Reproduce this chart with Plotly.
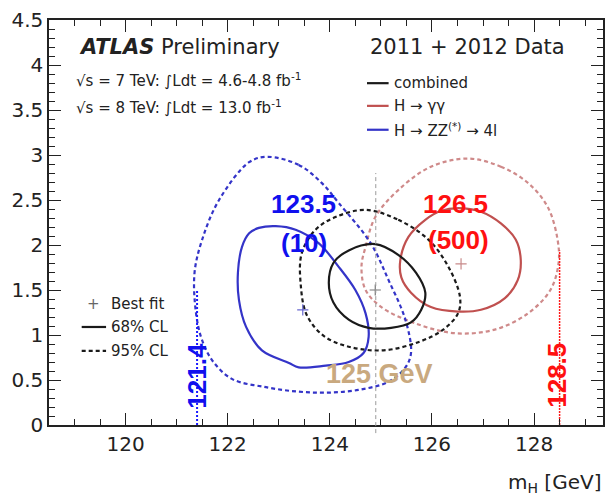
import plotly.graph_objects as go

# ---- data ----
comb68_x = [124.89, 125.34, 125.69, 125.87, 125.79, 125.59, 125.20, 124.76, 124.37, 124.07, 123.98, 124.07, 124.37]
comb68_y = [2.01, 1.89, 1.69, 1.47, 1.28, 1.14, 1.08, 1.08, 1.17, 1.36, 1.58, 1.80, 1.94]
comb95_x = [124.70, 125.34, 125.93, 126.32, 126.55, 126.51, 126.22, 125.73, 125.05, 124.37, 123.88, 123.55, 123.43, 123.45, 123.72, 124.11]
comb95_y = [2.39, 2.28, 2.06, 1.76, 1.42, 1.24, 1.06, 0.92, 0.83, 0.87, 0.99, 1.22, 1.56, 1.91, 2.17, 2.31]
comb_best = (124.89, 1.50)

gg68_x = [126.51, 126.96, 127.35, 127.64, 127.74, 127.68, 127.43, 126.96, 126.51, 125.98, 125.59, 125.40, 125.38, 125.54, 125.87, 126.18]
gg68_y = [2.41, 2.37, 2.24, 2.06, 1.83, 1.61, 1.41, 1.28, 1.26, 1.31, 1.47, 1.64, 1.83, 2.09, 2.28, 2.38]
gg95_x = [126.71, 127.35, 127.88, 128.27, 128.46, 128.48, 128.32, 127.88, 127.23, 126.45, 125.67, 125.01, 124.70, 124.62, 124.70, 124.89, 125.34, 125.98]
gg95_y = [2.96, 2.87, 2.69, 2.42, 2.06, 1.80, 1.50, 1.24, 1.06, 1.02, 1.13, 1.31, 1.50, 1.76, 1.98, 2.31, 2.61, 2.87]
gg_best = (126.57, 1.79)

zz68_x = [122.94, 123.33, 123.78, 124.17, 124.50, 124.70, 124.76, 124.66, 124.37, 123.92, 123.39, 123.20, 122.67, 122.36, 122.22, 122.20, 122.28, 122.42, 122.61]
zz68_y = [2.21, 2.17, 2.02, 1.76, 1.50, 1.24, 0.98, 0.80, 0.70, 0.66, 0.64, 0.69, 0.83, 1.09, 1.39, 1.69, 1.98, 2.13, 2.19]
zz95_x = [122.77, 123.39, 123.84, 124.17, 124.80, 125.15, 125.48, 125.59, 125.48, 125.15, 124.56, 123.98, 123.39, 122.75, 122.09, 121.72, 121.50, 121.38, 121.35, 121.50, 121.83, 122.42]
zz95_y = [2.98, 2.89, 2.69, 2.47, 2.02, 1.61, 1.17, 0.80, 0.64, 0.48, 0.39, 0.36, 0.37, 0.42, 0.51, 0.70, 0.94, 1.24, 1.69, 2.06, 2.50, 2.92]
zz_best = (123.47, 1.28)

mass_lo, mass_hi, mass_ref = 121.4, 128.5, 124.9
lo_line_top, hi_line_top, ref_line_top = 1.5, 1.94, 2.8
zz_label, zz_sub = "123.5", "(10)"
gg_label, gg_sub = "126.5", "(500)"

x_range = [118.5, 129.35]
y_range = [0, 4.5]

BLACK = "#1a1a1a"
RED = "#c0504f"
RED95 = "#cf8a8a"
BLUE = "#3434c8"
FONT = "DejaVu Sans"
DASH = "4px,3px"

def closed(xs, ys):
    return list(xs) + [xs[0]], list(ys) + [ys[0]]

fig = go.Figure()

def contour(xs, ys, color, dash):
    cx, cy = closed(xs, ys)
    fig.add_trace(go.Scatter(x=cx, y=cy, mode="lines", line=dict(color=color, width=2.2, dash=dash, shape="spline", smoothing=1.0),
                             hoverinfo="skip", showlegend=False))

contour(gg95_x, gg95_y, RED95, DASH)
contour(zz95_x, zz95_y, BLUE, DASH)
contour(comb95_x, comb95_y, BLACK, DASH)
contour(gg68_x, gg68_y, RED, "solid")
contour(zz68_x, zz68_y, BLUE, "solid")
contour(comb68_x, comb68_y, BLACK, "solid")

for (bx, by), c in [(comb_best, "#777777"), (gg_best, "#c88a8a"), (zz_best, "#6a6ad0")]:
    fig.add_trace(go.Scatter(x=[bx], y=[by], mode="markers", marker=dict(symbol="cross-thin", size=8, line=dict(color=c, width=1.2)),
                             hoverinfo="skip", showlegend=False))

# vertical lines
fig.add_trace(go.Scatter(x=[mass_lo, mass_lo], y=[0, lo_line_top], mode="lines", line=dict(color="#1a1aff", width=2, dash="2px,2px"),
                         hoverinfo="skip", showlegend=False))
fig.add_trace(go.Scatter(x=[mass_hi, mass_hi], y=[0, hi_line_top], mode="lines", line=dict(color="#ff1a1a", width=1.5, dash="2px,1px"),
                         hoverinfo="skip", showlegend=False))
fig.add_shape(type="line", xref="x", yref="paper", x0=mass_ref, x1=mass_ref, y0=-0.02, y1=ref_line_top / y_range[1],
              line=dict(color="#9a9a9a", width=1, dash="4px,3px"))

def ann(text, x, y, size, color="#222222", xanchor="left", ref="paper", textangle=0, family=FONT):
    fig.add_annotation(text=text, x=x, y=y, xref=ref, yref=ref, xanchor=xanchor, yanchor="middle", showarrow=False,
                       font=dict(family=family, size=size, color=color), textangle=textangle)

# header texts
ann("<b><i>ATLAS</i></b> Preliminary", 0.050, 0.933, 21)
ann("√s = 7 TeV: ∫Ldt = 4.6-4.8 fb<sup>-1</sup>", 0.046, 0.853, 15)
ann("√s = 8 TeV: ∫Ldt = 13.0 fb<sup>-1</sup>", 0.046, 0.784, 15)
ann("2011 + 2012 Data", 0.575, 0.933, 21)

# legend top right
for yp, col, txt in [(0.844, BLACK, "combined"), (0.788, RED, "H → γγ"), (0.729, BLUE, "H → ZZ<sup>(*)</sup> → 4l")]:
    fig.add_shape(type="line", xref="paper", yref="paper", x0=0.574, x1=0.613, y0=yp, y1=yp, line=dict(color=col, width=2.2))
    ann(txt, 0.620, yp, 15)

# legend bottom left
ann("+", 0.081, 0.300, 15, color="#666666", xanchor="center")
ann("Best fit", 0.108, 0.300, 15)
fig.add_shape(type="line", xref="paper", yref="paper", x0=0.059, x1=0.103, y0=0.242, y1=0.242, line=dict(color=BLACK, width=2.2))
ann("68% CL", 0.108, 0.242, 15)
fig.add_shape(type="line", xref="paper", yref="paper", x0=0.059, x1=0.103, y0=0.183, y1=0.183, line=dict(color=BLACK, width=2.2, dash=DASH))
ann("95% CL", 0.108, 0.183, 15)

# big labels
LS = "Liberation Sans"
ann("<b>%s</b>" % zz_label, 0.460, 0.546, 26, color="#1010ee", xanchor="center", family=LS)
ann("<b>%s</b>" % zz_sub, 0.460, 0.449, 26, color="#1010ee", xanchor="center", family=LS)
ann("<b>%s</b>" % gg_label, 0.734, 0.546, 26, color="#ff1010", xanchor="center", family=LS)
ann("<b>%s</b>" % gg_sub, 0.740, 0.457, 26, color="#ff1010", xanchor="center", family=LS)
ann("<b>125 GeV</b>", 0.597, 0.126, 27, color="#c9a97f", xanchor="center", family=LS)
ann("<b>%s</b>" % mass_lo, 0.268, 0.123, 26, color="#1010ee", xanchor="center", textangle=-90, family=LS)
ann("<b>%s</b>" % mass_hi, 0.918, 0.123, 26, color="#ff1010", xanchor="center", textangle=-90, family=LS)

# axis title
fig.add_annotation(text="m<sub>H</sub> [GeV]", x=1.0, y=-0.142, xref="paper", yref="paper", xanchor="right", yanchor="middle",
                   showarrow=False, font=dict(family=FONT, size=20, color="#222222"))

axis_common = dict(showline=True, linecolor="#222222", linewidth=1.5, mirror="allticks", ticks="inside",
                   tickcolor="#222222", tickwidth=1.3, showgrid=False, zeroline=False,
                   tickfont=dict(family=FONT, size=20, color="#222222"))
fig.update_xaxes(range=x_range, tickvals=[120, 122, 124, 126, 128], ticklen=12,
                 minor=dict(dtick=0.5, tick0=118.5, ticklen=6, ticks="inside", tickcolor="#222222", showgrid=False),
                 **axis_common)
fig.update_yaxes(range=y_range, tickvals=[0, 0.5, 1, 1.5, 2, 2.5, 3, 3.5, 4, 4.5],
                 ticktext=["0", "0.5", "1", "1.5", "2", "2.5", "3", "3.5", "4", "4.5"], ticklen=12,
                 minor=dict(dtick=0.1, tick0=0, ticklen=6, ticks="inside", tickcolor="#222222", showgrid=False),
                 **axis_common)

fig.update_layout(width=612, height=495, margin=dict(l=49, r=7, t=20, b=70),
                  paper_bgcolor="white", plot_bgcolor="white", showlegend=False)

fig.write_html("out.html", config={"displayModeBar": False},
               post_script="document.body.style.margin='0px';")
